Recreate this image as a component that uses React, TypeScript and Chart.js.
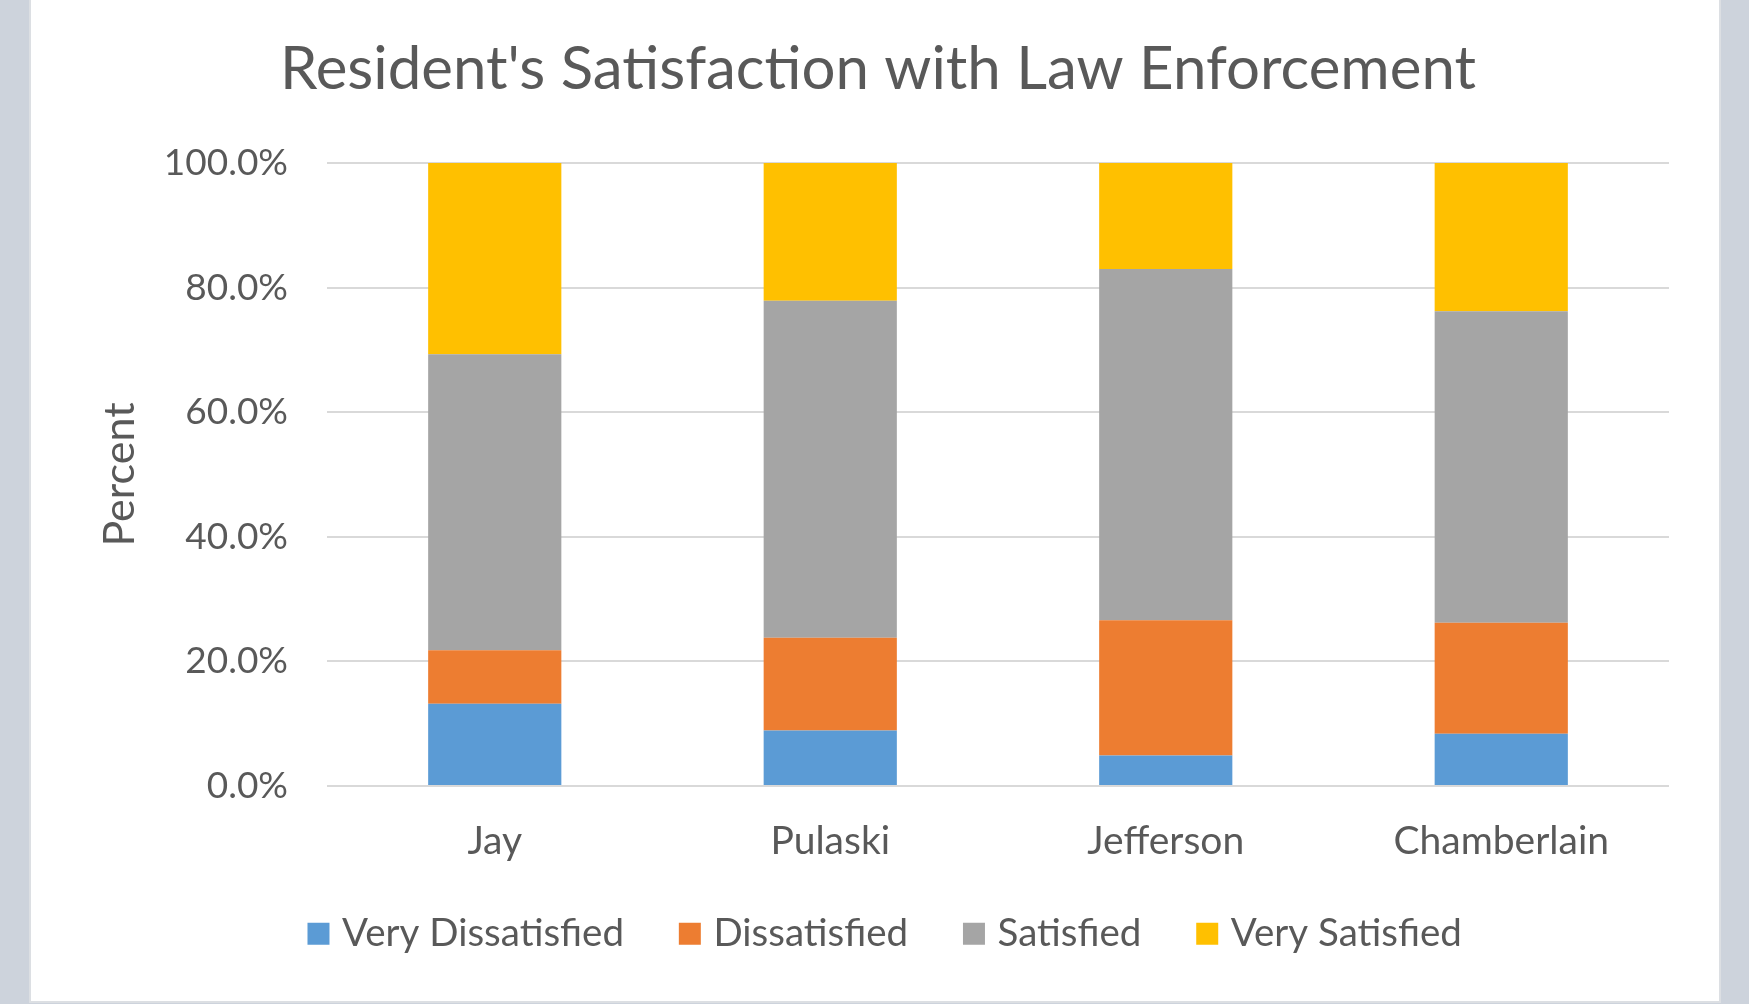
import React, { useEffect, useRef } from 'react';
import { Chart, registerables } from 'chart.js';

Chart.register(...registerables);

const categories = ['Jay', 'Pulaski', 'Jefferson', 'Chamberlain'];
const seriesNames = ['Very Dissatisfied', 'Dissatisfied', 'Satisfied', 'Very Satisfied'];
const veryDissatisfied = [13.2, 8.9, 4.9, 8.4];
const dissatisfied = [8.6, 14.9, 21.7, 17.8];
const satisfied = [47.5, 54.1, 56.4, 50.0];
const verySatisfied = [30.7, 22.1, 17.0, 23.8];
const yTickValues = [0, 20, 40, 60, 80, 100];
const seriesColors = ['#5B9BD5', '#ED7D31', '#A5A5A5', '#FFC000'];

const TEXT = '#595959';
const FONT = 'Lato';

const legendShift = {
  id: 'legendShift',
  afterLayout(chart: any) {
    if (chart.legend) {
      chart.legend.left += 10;
      chart.legend.right += 10;
    }
  },
};

export default function App() {
  const ref = useRef<HTMLCanvasElement | null>(null);

  useEffect(() => {
    if (!ref.current) return;
    const values = [veryDissatisfied, dissatisfied, satisfied, verySatisfied];
    const chart = new Chart(ref.current, {
      type: 'bar',
      data: {
        labels: categories,
        datasets: seriesNames.map((name, i) => ({
          label: name,
          data: values[i],
          backgroundColor: seriesColors[i],
          borderWidth: 0,
          categoryPercentage: 1,
          barPercentage: 0.397,
        })),
      },
      plugins: [legendShift],
      options: {
        responsive: false,
        animation: false,
        devicePixelRatio: 1,
        layout: { padding: { left: 56, right: 50, top: 0, bottom: 0 } },
        plugins: {
          title: {
            display: true,
            text: "Resident's Satisfaction with Law Enforcement",
            color: TEXT,
            font: { family: FONT, size: 60, weight: 'normal' },
            padding: { top: 34, bottom: 57 },
          },
          legend: {
            position: 'bottom',
            labels: {
              color: TEXT,
              font: { family: FONT, size: 38.5 },
              usePointStyle: true,
              pointStyle: 'rect',
              boxWidth: 8.7,
              boxHeight: 22,
              padding: 61.5,
            },
          },
          tooltip: { enabled: false },
        },
        scales: {
          x: {
            stacked: true,
            grid: { display: false, drawTicks: false },
            border: { display: false },
            ticks: {
              color: TEXT,
              font: { family: FONT, size: 39 },
              padding: 32.5,
            },
            afterFit: (scale: any) => {
              scale.height = 67;
              scale._computeLabelArea = () => undefined;
            },
          },
          y: {
            stacked: true,
            min: 0,
            max: 100,
            afterBuildTicks: (scale: any) => {
              scale.ticks = yTickValues.map((v) => ({ value: v }));
            },
            grid: { color: '#D9D9D9', lineWidth: 2, drawTicks: false },
            border: { display: false },
            ticks: {
              color: TEXT,
              font: { family: FONT, size: 37 },
              padding: 39,
              callback: (v: any) => Number(v).toFixed(1) + '%',
            },
            title: {
              display: true,
              text: 'Percent',
              color: TEXT,
              font: { family: FONT, size: 43 },
              padding: { top: 7, bottom: 0 },
            },
            afterFit: (scale: any) => {
              scale.width = 240;
            },
          },
        },
      },
    });
    return () => chart.destroy();
  }, []);

  return (
    <div style={{ position: 'fixed', left: 0, top: 0, width: 1749, height: 1004, background: '#CDD3DC', overflow: 'hidden' }}>
      <div
        style={{
          position: 'absolute',
          left: 31,
          top: 0,
          width: 1688,
          height: 1001,
          background: '#FFFFFF',
          overflow: 'hidden',
          boxShadow: '0 0 0 2px #DCDFE3',
        }}
      >
        <canvas ref={ref} width={1688} height={963} style={{ display: 'block', width: 1688, height: 963 }} />
      </div>
    </div>
  );
}
